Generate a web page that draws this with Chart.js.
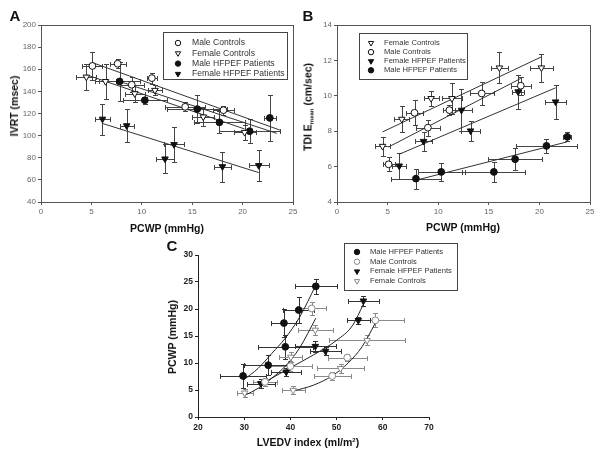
<!DOCTYPE html>
<html>
<head>
<meta charset="utf-8">
<script src="https://cdn.jsdelivr.net/npm/chart.js@4.4.1/dist/chart.umd.min.js"></script>
<style>
  body { margin: 0; background: #fff; width: 600px; height: 451px; position: relative; overflow: hidden;
         font-family: "Liberation Sans", Arial, sans-serif; }
  canvas { position: absolute; }
  .lbl { position: absolute; font-weight: bold; color: #111; white-space: nowrap; transform: translate(-50%, -50%); }
  .rot { transform: translate(-50%, -50%) rotate(-90deg); }
  .letter { font-size: 15px; }
  .ttl { font-size: 10.5px; }
  sub { font-size: 6px; vertical-align: -2px; }
  sup { font-size: 6px; vertical-align: 4px; }
</style>
</head>
<body>
<canvas id="chartA" width="300" height="235" style="left:0;top:0"></canvas>
<canvas id="chartB" width="300" height="235" style="left:300px;top:0"></canvas>
<canvas id="chartC" width="320" height="216" style="left:140px;top:235px"></canvas>

<div class="lbl letter" style="left:15px;top:15px">A</div>
<div class="lbl letter" style="left:308px;top:15px">B</div>
<div class="lbl letter" style="left:172px;top:245px">C</div>
<div class="lbl ttl" style="left:167px;top:228px">PCWP (mmHg)</div>
<div class="lbl ttl rot" style="left:14px;top:106px">IVRT (msec)</div>
<div class="lbl ttl" style="left:463px;top:227px">PCWP (mmHg)</div>
<div class="lbl ttl rot" style="left:308px;top:107px">TDI E<sub>mean</sub> (cm/sec)</div>
<div class="lbl ttl" style="left:308px;top:442px">LVEDV index (ml/m<sup>2</sup>)</div>
<div class="lbl ttl rot" style="left:172px;top:337px">PCWP (mmHg)</div>

<script>
// rows are [x, y, xErr, yErr]

// Panel A: IVRT (msec) vs PCWP (mmHg)
const aMaleCtl = [[5.1,163,1.0,13],[7.6,165,0.8,4],[9.0,146,1.2,7],[11.0,152,0.5,5],[14.3,126,2.0,4],[18.1,123,1.0,4]];
const aFemaleCtl = [[4.5,153,1.0,12],[6.4,149,1.0,16],[9.3,138,1.0,8],[11.3,141,0.7,4.5],[16.1,117,1.1,8],[20.2,103,1.1,7]];
const aMaleHf = [[7.8,149,2.0,18],[10.3,132,2.2,3],[15.5,124,3.0,13],[17.7,112,2.5,10],[20.7,104,3.0,11],[22.7,116,0.6,21]];
const aFemaleHf = [[6.1,115,0.7,14],[8.5,109,0.7,15],[12.3,79,0.9,13],[13.2,92,1.0,16],[18.0,72,0.8,13.5],[21.6,73,1.0,14]];
const aFitMaleCtl = [[5.1,166],[23.7,105]];
const aFitFemaleCtl = [[4.5,155],[20.2,106]];
const aFitMaleHf = [[7.8,149],[23.4,102]];
const aFitFemaleHf = [[6.1,111],[21.6,66.6]];

// Panel B: TDI Emean (cm/sec) vs PCWP (mmHg)
const bFemaleCtl = [[4.5,7.15,0.7,0.55],[6.4,8.68,0.75,0.75],[9.3,9.85,0.75,0.4],[11.35,9.85,1.0,0.9],[16.05,11.58,0.8,0.87],[20.2,11.58,1.1,0.8]];
const bMaleCtl = [[5.1,6.13,0.6,0.4],[7.66,9.04,0.8,0.7],[8.98,8.2,1.2,0.45],[11.1,9.19,0.6,0.3],[14.3,10.13,1.2,0.65],[18.16,10.57,1.0,0.5]];
const bFemaleHf = [[6.15,6.04,0.7,0.75],[8.55,7.43,0.8,0.55],[12.3,9.19,1.0,1.2],[13.2,8.02,0.9,0.57],[17.9,10.23,0.6,0.95],[21.6,9.66,1.0,0.95]];
const bMaleHf = [[7.8,5.32,2.5,0.57],[10.3,5.7,2.3,0.5],[15.5,5.7,3.1,0.57],[17.6,6.42,2.7,0.62],[20.7,7.17,3.0,0.38],[22.76,7.68,0.4,0.25]];
const bFitFemaleCtl = [[4.5,7.96],[20.2,12.2]];
const bFitMaleCtl = [[5.1,7.11],[18.16,10.98]];
const bFitFemaleHf = [[6.15,6.7],[21.6,10.45]];
const bFitMaleHf = [[7.8,5.23],[22.76,7.4]];

// Panel C: PCWP (mmHg) vs LVEDV index (ml/m2)
const cMaleHf = [[29.75,7.6,5.0,2.3],[35.2,9.6,5.2,1.9],[38.6,17.4,2.7,2.6],[38.9,13.0,6.0,2.2],[41.8,19.8,3.3,2.4],[45.5,24.2,4.5,1.4]];
const cMaleCtl = [[34.5,6.5,2.5,0.7],[40.0,9.4,4.7,0.9],[44.6,20.1,3.2,1.2],[49.05,7.6,4.0,0.7],[52.3,11.0,4.2,0.6],[58.4,17.9,6.1,1.3]];
const cFemaleHf = [[33.6,6.2,3.1,0.8],[39.1,8.35,3.2,0.7],[45.4,13.1,4.5,1.0],[47.6,12.2,3.4,0.8],[54.7,17.9,2.5,0.7],[55.8,21.5,3.4,1.0]];
const cFemaleCtl = [[30.1,4.45,1.7,0.7],[40.1,11.1,2.5,1.0],[45.4,16.1,3.8,0.9],[40.6,4.95,2.5,0.7],[50.85,9.0,5.0,0.9],[56.6,14.2,8.3,0.9]];
const cCurveMaleHf = [[29.75,6.8],[33,9],[36,11.8],[38.8,14.5],[42,18.5],[45.5,24.4]];
const cCurveFemaleCtl = [[30.1,4.0],[33,5.3],[36,7.2],[39,9.5],[42,12.8],[45.5,18.3]];
const cCurveFemaleHf = [[33.5,6.0],[39.5,8.9],[45,11.5],[50,14.2],[53.5,17],[55.8,20.9]];
const cCurveMaleCtl = [[40.6,4.8],[45,5.9],[49,7.6],[52.5,10],[55.5,13],[58.4,17.4]];

const FONT = '"Liberation Sans", Arial, sans-serif';
const GREY = '#8a8a8a';

const MARKS = {
  openCircle:  { pointStyle: 'circle',   rotation: 0,   radius: 3.4, fill: '#fff' },
  openTri:     { pointStyle: 'triangle', rotation: 180, radius: 3.8, fill: '#fff' },
  fillCircle:  { pointStyle: 'circle',   rotation: 0,   radius: 3.4, fill: null },
  fillTri:     { pointStyle: 'triangle', rotation: 180, radius: 3.8, fill: null },
};

function series(rows, mark, color, errColor) {
  const m = MARKS[mark];
  return {
    data: rows.map(r => ({ x: r[0], y: r[1] })),
    errors: rows.map(r => [r[2], r[3]]),
    errColor: errColor || color,
    pointStyle: m.pointStyle, pointRotation: m.rotation, pointRadius: m.radius,
    backgroundColor: m.fill || color, borderColor: color, borderWidth: 1,
    showLine: false, order: 1
  };
}

function fit(rows, color, smooth) {
  return {
    data: rows.map(r => ({ x: r[0], y: r[1] })),
    showLine: true, pointRadius: 0, borderColor: color || '#333', borderWidth: 1,
    cubicInterpolationMode: smooth ? 'monotone' : 'default', tension: 0, order: 5
  };
}

// error bars drawn under the markers
const errorBars = {
  id: 'errorBars',
  beforeDatasetsDraw(chart) {
    const { ctx, scales: { x, y } } = chart;
    const cap = 2.5;
    chart.data.datasets.forEach(ds => {
      if (!ds.errors) return;
      ctx.save();
      ctx.strokeStyle = ds.errColor;
      ctx.lineWidth = 1;
      ds.errors.forEach((e, i) => {
        const p = ds.data[i];
        const px = Math.round(x.getPixelForValue(p.x)) + 0.5, py = Math.round(y.getPixelForValue(p.y)) + 0.5;
        const x0 = Math.round(x.getPixelForValue(p.x - e[0])) + 0.5, x1 = Math.round(x.getPixelForValue(p.x + e[0])) + 0.5;
        const y0 = Math.round(y.getPixelForValue(p.y - e[1])) + 0.5, y1 = Math.round(y.getPixelForValue(p.y + e[1])) + 0.5;
        ctx.beginPath();
        ctx.moveTo(x0, py); ctx.lineTo(x1, py);
        ctx.moveTo(x0, py - cap); ctx.lineTo(x0, py + cap);
        ctx.moveTo(x1, py - cap); ctx.lineTo(x1, py + cap);
        ctx.moveTo(px, y0); ctx.lineTo(px, y1);
        ctx.moveTo(px - cap, y0); ctx.lineTo(px + cap, y0);
        ctx.moveTo(px - cap, y1); ctx.lineTo(px + cap, y1);
        ctx.stroke();
      });
      ctx.restore();
    });
  }
};

// frame around plot area + boxed legend
const decor = {
  id: 'decor',
  afterDraw(chart, args, opts) {
    const { ctx, chartArea: a } = chart;
    ctx.save();
    if (opts.frame) {
      ctx.strokeStyle = '#555';
      ctx.lineWidth = 1;
      ctx.strokeRect(Math.round(a.left) + 0.5, Math.round(a.top) + 0.5, Math.round(a.right - a.left), Math.round(a.bottom - a.top));
    }
    const L = opts.legend;
    if (L) {
      ctx.fillStyle = '#fff';
      ctx.fillRect(L.x, L.y, L.w, L.h);
      ctx.strokeStyle = '#444';
      ctx.lineWidth = 1;
      ctx.strokeRect(L.x + 0.5, L.y + 0.5, L.w, L.h);
      ctx.font = L.size + 'px ' + FONT;
      ctx.textBaseline = 'middle';
      L.items.forEach((it, i) => {
        const m = MARKS[it.mark];
        const yy = L.y + L.first + i * L.step;
        ctx.fillStyle = m.fill || it.color;
        ctx.strokeStyle = it.color;
        Chart.helpers.drawPoint(ctx, { pointStyle: m.pointStyle, rotation: m.rotation, radius: m.radius * 0.8, borderWidth: 1 }, L.x + L.sym, yy);
        ctx.fillStyle = it.textColor || '#333';
        ctx.fillText(it.label, L.x + L.text, yy);
      });
    }
    ctx.restore();
  }
};

function axis(min, max, step, fit, opts) {
  const o = Object.assign({ tickColor: '#666', size: 8, bold: false, line: '#555', pad: 2 }, opts || {});
  return {
    type: 'linear', min, max,
    ticks: { stepSize: step, color: o.tickColor, padding: o.pad, font: { family: FONT, size: o.size, weight: o.bold ? 'bold' : 'normal' } },
    grid: { drawOnChartArea: false, drawTicks: true, tickLength: 3, color: o.line },
    border: { color: o.line, width: 1 },
    afterFit: fit
  };
}

function makeChart(id, datasets, scales, padding, decorOpts) {
  return new Chart(document.getElementById(id), {
    type: 'scatter',
    data: { datasets },
    options: {
      responsive: false, animation: false, devicePixelRatio: 1,
      layout: { padding },
      scales,
      plugins: { legend: { display: false }, tooltip: { enabled: false }, decor: decorOpts }
    },
    plugins: [errorBars, decor]
  });
}

const K = '#111';

makeChart('chartA', [
  series(aMaleCtl, 'openCircle', K, '#444'),
  series(aFemaleCtl, 'openTri', K, '#444'),
  series(aMaleHf, 'fillCircle', K, '#444'),
  series(aFemaleHf, 'fillTri', K, '#444'),
  fit(aFitMaleCtl), fit(aFitFemaleCtl), fit(aFitMaleHf), fit(aFitFemaleHf)
], {
  x: axis(0, 25, 5, s => { s.height = 33; }),
  y: axis(40, 200, 20, s => { s.width = 41; })
}, { left: 0, top: 25, right: 7, bottom: 0 }, {
  frame: true,
  legend: { x: 163, y: 32, w: 124, h: 47, sym: 15, text: 29, first: 11, step: 10.3, size: 8.6, items: [
    { label: 'Male Controls', mark: 'openCircle', color: K },
    { label: 'Female Controls', mark: 'openTri', color: K },
    { label: 'Male HFPEF Patients', mark: 'fillCircle', color: K },
    { label: 'Female HFPEF Patients', mark: 'fillTri', color: K }
  ] }
});

makeChart('chartB', [
  series(bFemaleCtl, 'openTri', K, '#444'),
  series(bMaleCtl, 'openCircle', K, '#444'),
  series(bFemaleHf, 'fillTri', K, '#444'),
  series(bMaleHf, 'fillCircle', K, '#444'),
  fit(bFitFemaleCtl), fit(bFitMaleCtl), fit(bFitFemaleHf), fit(bFitMaleHf)
], {
  x: axis(0, 25, 5, s => { s.height = 33; }),
  y: axis(4, 14, 2, s => { s.width = 37; })
}, { left: 0, top: 25, right: 10, bottom: 0 }, {
  frame: true,
  legend: { x: 59, y: 33, w: 108, h: 46, sym: 12, text: 25, first: 10, step: 9.1, size: 7.6, items: [
    { label: 'Female Controls', mark: 'openTri', color: K },
    { label: 'Male Controls', mark: 'openCircle', color: K },
    { label: 'Female HFPEF Patients', mark: 'fillTri', color: K },
    { label: 'Male HFPEF Patients', mark: 'fillCircle', color: K }
  ] }
});

makeChart('chartC', [
  series(cMaleHf, 'fillCircle', K, '#333'),
  series(cMaleCtl, 'openCircle', GREY, GREY),
  series(cFemaleHf, 'fillTri', K, '#333'),
  series(cFemaleCtl, 'openTri', GREY, GREY),
  fit(cCurveMaleHf, '#222', true), fit(cCurveFemaleCtl, '#222', true),
  fit(cCurveFemaleHf, '#222', true), fit(cCurveMaleCtl, '#222', true)
], {
  x: axis(20, 70, 10, s => { s.height = 34; }, { tickColor: '#222', size: 8.5, bold: true, line: '#222', pad: 3 }),
  y: axis(0, 30, 5, s => { s.width = 58; }, { tickColor: '#222', size: 8.5, bold: true, line: '#222', pad: 2 })
}, { left: 0, top: 20, right: 31, bottom: 0 }, {
  frame: false,
  legend: { x: 204, y: 8, w: 113, h: 47, sym: 13, text: 26, first: 9, step: 9.7, size: 7.6, items: [
    { label: 'Male HFPEF Patients', mark: 'fillCircle', color: K },
    { label: 'Male Controls', mark: 'openCircle', color: GREY },
    { label: 'Female HFPEF Patients', mark: 'fillTri', color: K },
    { label: 'Female Controls', mark: 'openTri', color: GREY }
  ] }
});
</script>
</body>
</html>
